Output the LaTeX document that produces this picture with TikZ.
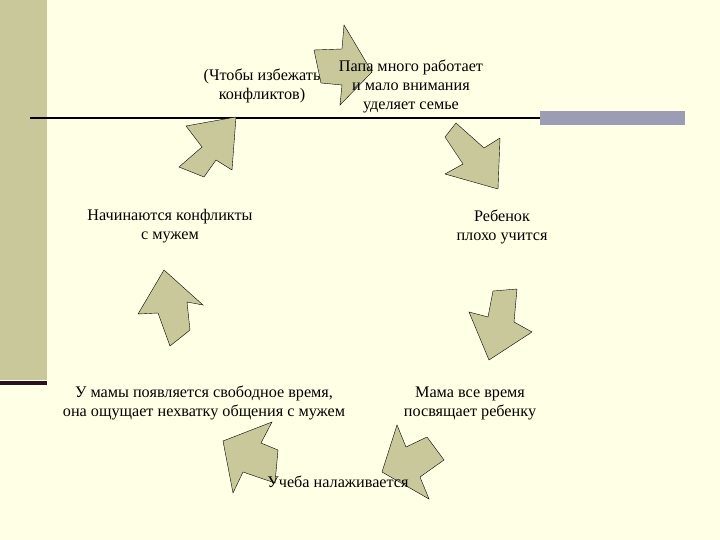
\documentclass[tikz,border=0pt]{standalone}
\usepackage{fontspec}
\setmainfont{Liberation Serif}
\definecolor{paper}{HTML}{FFFFE6}
\definecolor{olive}{HTML}{C8C89A}
\definecolor{barblue}{HTML}{9C9CB4}
\definecolor{darkline}{HTML}{2A1020}
\tikzset{blockarrow/.style={draw=black, thin, fill=olive, line join=miter}}
\tikzset{label/.style={align=center, font=\fontsize{16.2}{19}\selectfont, inner sep=0pt}}
\begin{document}
\begin{tikzpicture}[x=1pt,y=-1pt]
\useasboundingbox (0,0) rectangle (720,540);
\fill[paper] (0,0) rectangle (720,540);
\fill[olive] (0,0) rectangle (47,380);
\fill[darkline] (0,381) rectangle (47,385);
\fill[barblue] (540,111) rectangle (685,125);
\draw[line width=2pt] (30,118) -- (540,118);

% block arrows of the cycle
\draw[blockarrow] (314,50) -- (342,49) -- (344,25) -- (372,72) -- (340,105) -- (342,85) -- (321,83) -- cycle;
\draw[blockarrow] (456,123) -- (484,148) -- (500,138) -- (498,189) -- (445,174) -- (463,164) -- (445,137) -- cycle;
\draw[blockarrow] (493,291) -- (517,289) -- (514,322) -- (532,332) -- (489,360) -- (469,312) -- (488,317) -- cycle;
\draw[blockarrow] (397,425) -- (406,447) -- (427,437) -- (444,460) -- (420,477) -- (429,499) -- (382,472) -- cycle;
\draw[blockarrow] (223,441) -- (272,422) -- (261,443) -- (278,450) -- (275,483) -- (243,472) -- (233,493) -- cycle;
\draw[blockarrow] (164,270) -- (203,305) -- (187,302) -- (190,330) -- (170,346) -- (158,313) -- (138,314) -- cycle;
\draw[blockarrow] (186,126) -- (236,117) -- (232,170) -- (216,160) -- (204,177) -- (179,167) -- (202,147) -- cycle;

% texts
\node[label] (papa) at (411,86) {Папа много работает\\и мало внимания\\уделяет семье};
\node[label] (rebenok) at (502,227) {Ребенок\\плохо учится};
\node[label] (mama) at (470,403) {Мама все время\\посвящает ребенку};
\node[label] (ucheba) at (338,482) {Учеба налаживается};
\node[label] (vremya) at (204,403) {У мамы появляется свободное время,\\она ощущает нехватку общения с мужем};
\node[label] (konflikty) at (170,226) {Начинаются конфликты\\с мужем};
\node[label] (izbezhat) at (262,86) {(Чтобы избежать\\конфликтов)};
\end{tikzpicture}
\end{document}
